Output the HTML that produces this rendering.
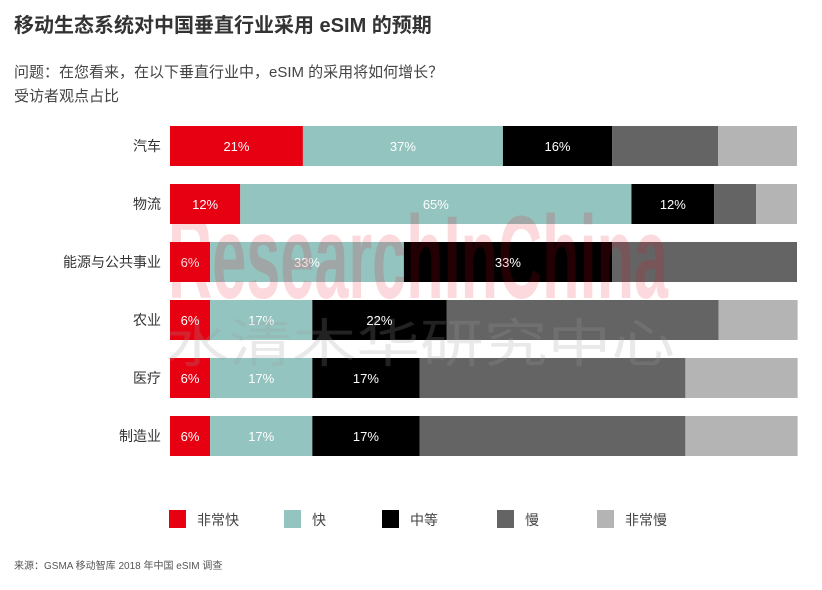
<!DOCTYPE html>
<html><head><meta charset="utf-8"><style>
body{margin:0;background:#fff;width:822px;height:585px;overflow:hidden;font-family:"Liberation Sans","Noto Sans CJK SC",sans-serif;}
</style></head><body>
<svg width="822" height="585" xmlns="http://www.w3.org/2000/svg" font-family="Liberation Sans, Noto Sans CJK SC, sans-serif">
<text x="14" y="32" font-size="20" font-weight="bold" fill="#333">移动生态系统对中国垂直行业采用 eSIM 的预期</text>
<text x="14" y="77" font-size="15" fill="#444">问题：在您看来，在以下垂直行业中，eSIM 的采用将如何增长？</text>
<text x="14" y="101" font-size="15" fill="#444">受访者观点占比</text>
<g id="bars"></g>
<g id="legend"></g>
<text x="168" y="298" font-size="118" font-weight="bold" fill="#e60012" fill-opacity="0.15" textLength="500" lengthAdjust="spacingAndGlyphs">ResearchInChina</text>
<text x="165" y="362" font-size="52" fill="#999" fill-opacity="0.22" textLength="510" lengthAdjust="spacingAndGlyphs">水清木华研究中心</text>
<text x="14" y="569" font-size="10" fill="#555">来源：GSMA 移动智库 2018 年中国 eSIM 调查</text>
</svg>
<script>
const categories=["汽车","物流","能源与公共事业","农业","医疗","制造业"];
const veryFast=[21.2,11.2,6.4,6.4,6.4,6.4];
const fast=[31.9,62.4,30.9,16.3,16.3,16.3];
const medium=[17.4,13.2,33.2,21.4,17.1,17.1];
const slow=[16.9,6.7,29.5,43.4,42.4,42.4];
const verySlow=[12.6,6.5,0,12.6,17.9,17.9];
const labelsVeryFast=["21%","12%","6%","6%","6%","6%"];
const labelsFast=["37%","65%","33%","17%","17%","17%"];
const labelsMedium=["16%","12%","33%","22%","17%","17%"];
const seriesNames=["非常快","快","中等","慢","非常慢"];
const ns="http://www.w3.org/2000/svg";
const colors=["#e60012","#93c4bf","#000000","#646464","#b4b4b4"];
const x0=170,plotW=627,y0=126,rowStep=58,barH=40;
const xs=v=>v/100*plotW;
const series=[veryFast,fast,medium,slow,verySlow];
const labels=[labelsVeryFast,labelsFast,labelsMedium,null,null];
const g=document.getElementById('bars');
categories.forEach((c,i)=>{
  const y=y0+i*rowStep;
  const t=document.createElementNS(ns,'text');
  
  
  t.setAttribute('x',161);t.setAttribute('y',y+barH/2+5);t.setAttribute('text-anchor','end');
  t.setAttribute('font-size','14');t.setAttribute('fill','#333');t.textContent=c;g.appendChild(t);
  let x=x0;
  series.forEach((s,k)=>{
    const w=xs(s[i]);
    const r=document.createElementNS(ns,'rect');
    
    
    r.setAttribute('x',x);r.setAttribute('y',y);r.setAttribute('width',w);r.setAttribute('height',barH);r.setAttribute('fill',colors[k]);
    g.appendChild(r);
    if(labels[k]){
      const l=document.createElementNS(ns,'text');
      
      
      l.setAttribute('x',x+w/2);l.setAttribute('y',y+barH/2+5);l.setAttribute('text-anchor','middle');
      l.setAttribute('font-size','13');l.setAttribute('fill','#fff');l.textContent=labels[k][i];g.appendChild(l);
    }
    x+=w;
  });
});
const lg=document.getElementById('legend');
const lx=[169,284,382,497,597];
seriesNames.forEach((n,k)=>{
  const r=document.createElementNS(ns,'rect');
  
  
  r.setAttribute('x',lx[k]);r.setAttribute('y',510);r.setAttribute('width',17);r.setAttribute('height',18);r.setAttribute('fill',colors[k]);lg.appendChild(r);
  const t=document.createElementNS(ns,'text');
  
  
  t.setAttribute('x',lx[k]+28);t.setAttribute('y',525);t.setAttribute('font-size','14');t.setAttribute('fill','#444');t.textContent=n;lg.appendChild(t);
});
</script>
</body></html>
